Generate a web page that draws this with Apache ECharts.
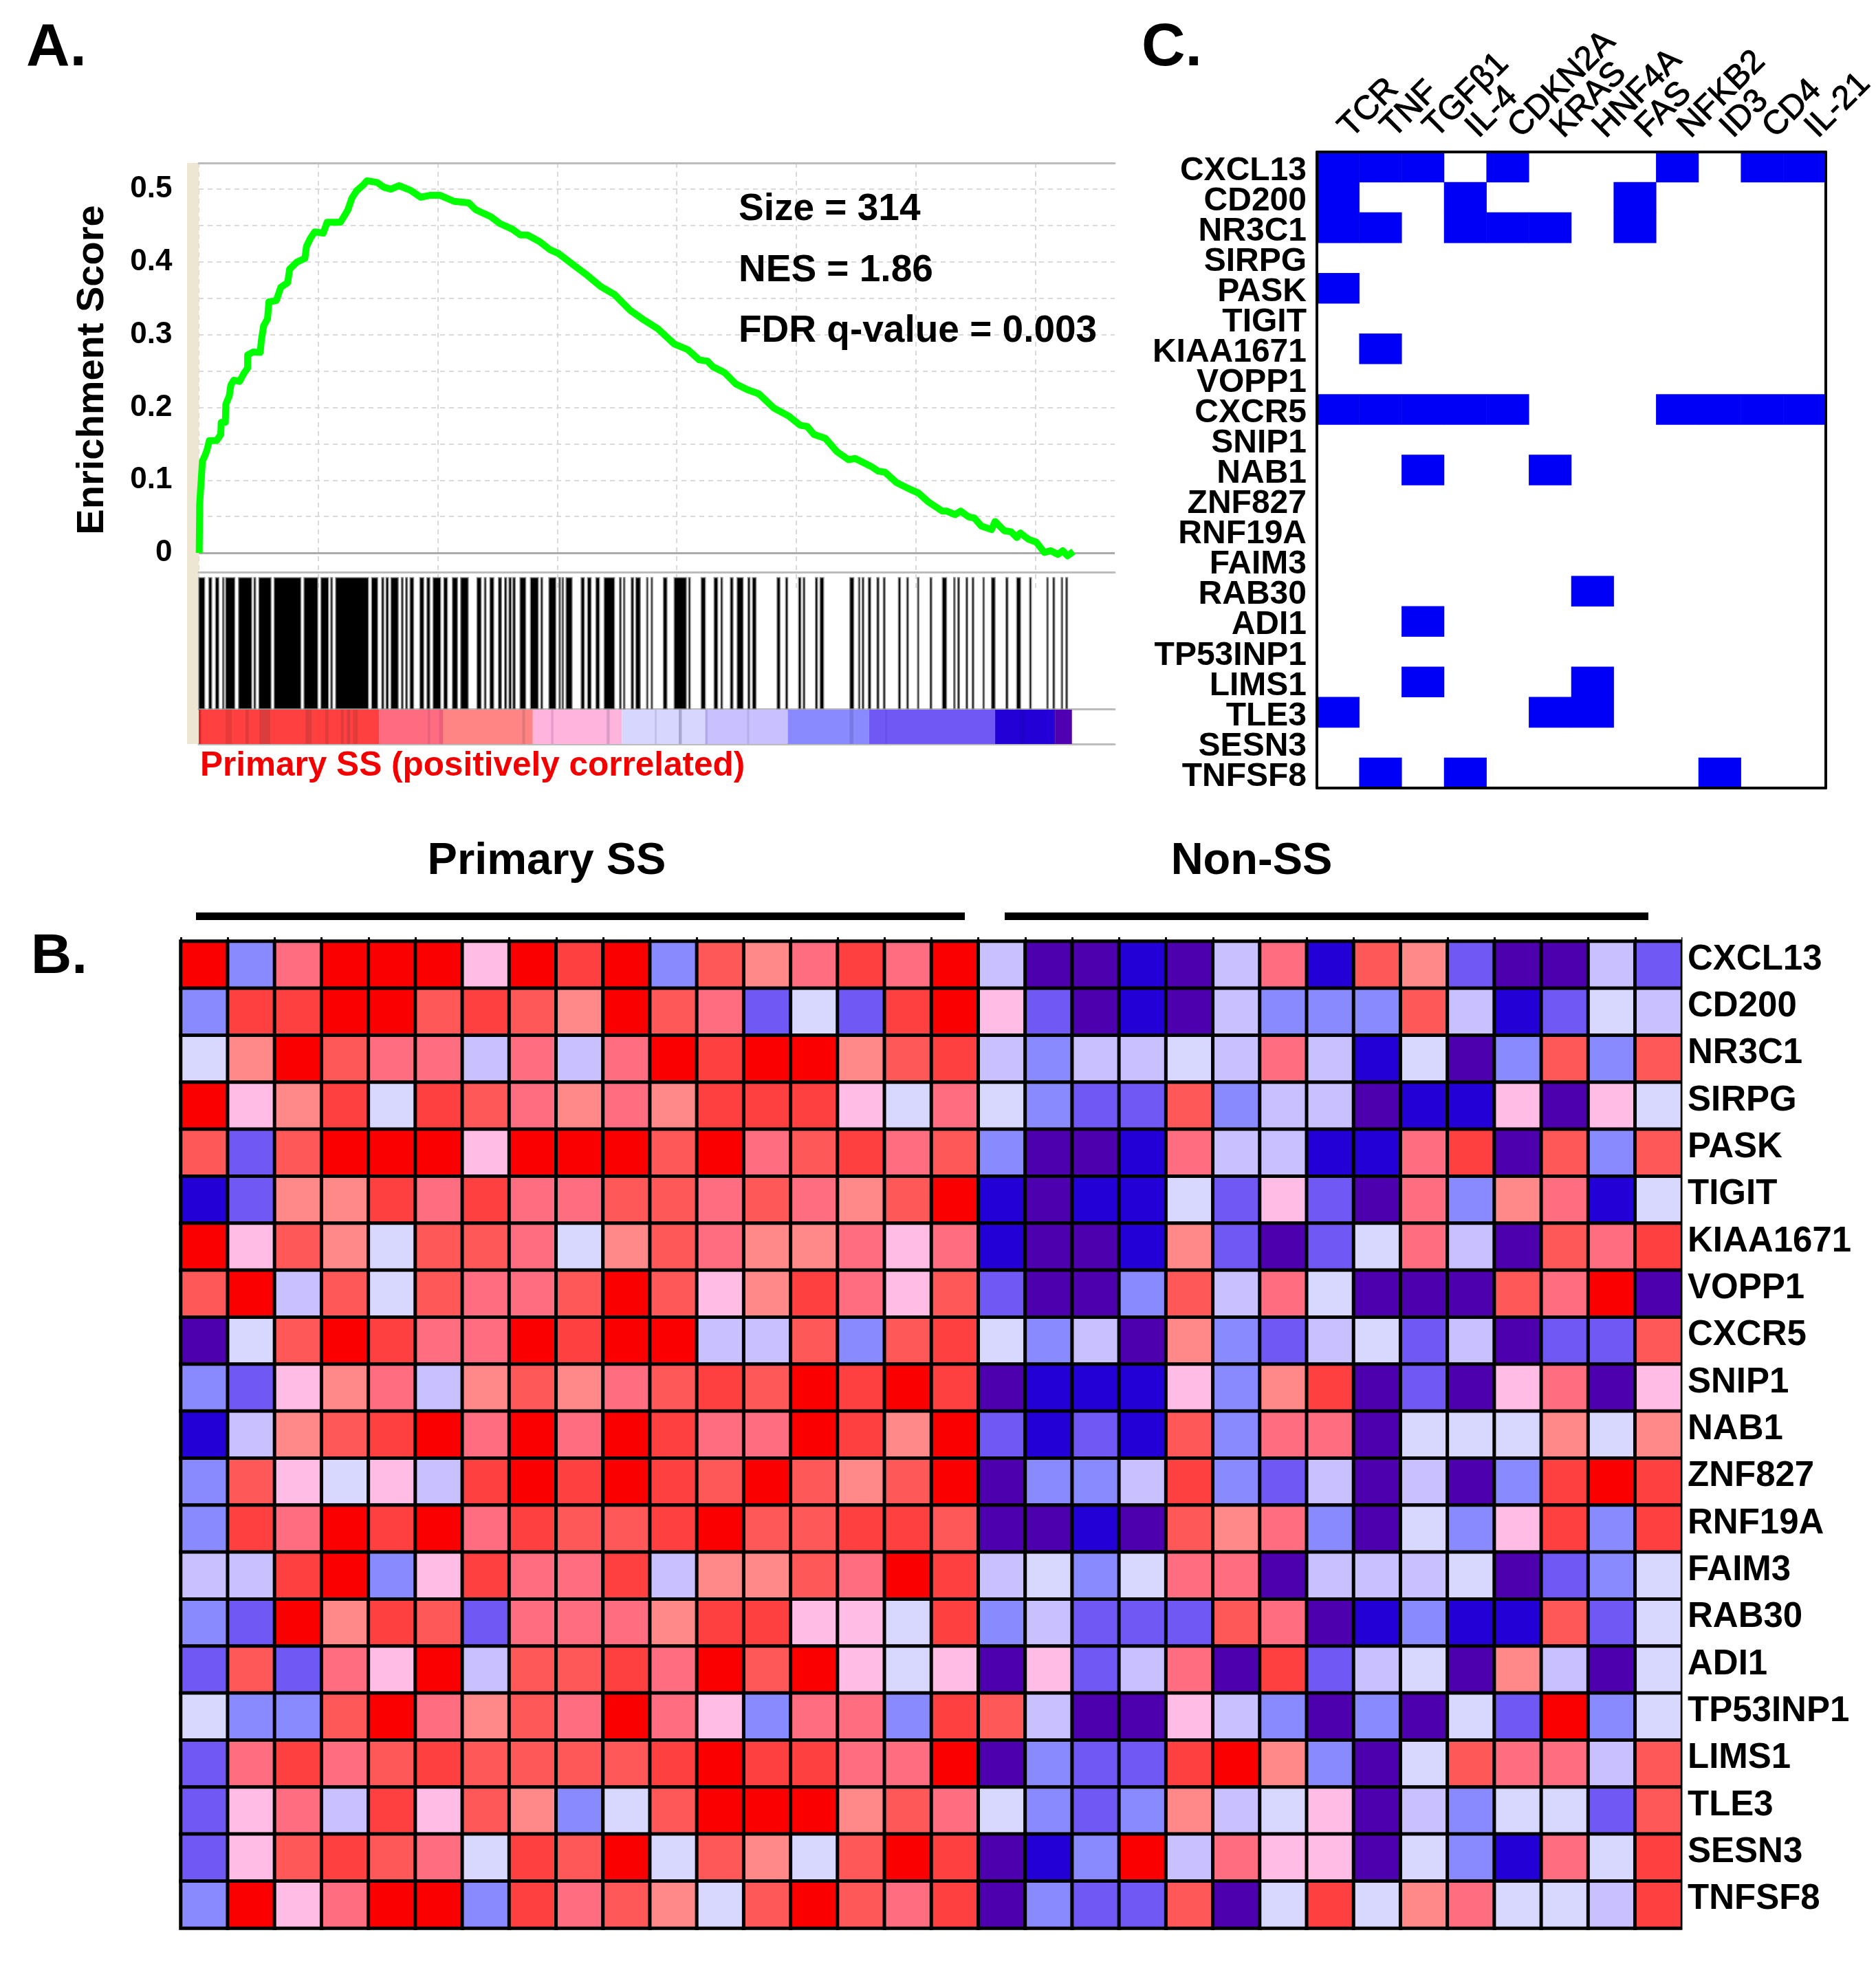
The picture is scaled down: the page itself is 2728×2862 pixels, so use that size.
<!DOCTYPE html>
<html><head><meta charset="utf-8"><style>html,body{margin:0;background:#fff}#c{width:2728px;height:2862px}</style>
<script src="https://cdn.jsdelivr.net/npm/echarts@6/dist/echarts.min.js"></script></head>
<body><div id="c"></div><script>
// ---------- Panel A data ----------
const esRank = [10,19,48,77,125,172,220,373,459,468,554,564,636,669,731,851,946,1018,1018,1137,1281,1304,1352,1433,1462,1615,1710,1854,1892,2045,2212,2245,2331,2417,2594,2675,2952,3105,3191,3287,3430,3502,3717,3860,4003,4170,4409,4624,4815,5030,5317,5627,5771,6081,6272,6535,6702,6846,7108,7323,7490,7801,8088,8374,8661,8995,9234,9568,9903,10189,10428,10595,10714,10953,11192,11431,11670,11980,12291,12530,12673,12816,13055,13294,13533,13676,14011,14154,14297,14536,14775,14990,15205,15492,15587,15754,15874,16041,16160,16303,16518,16590,16781,16925,17044,17116,17283,17450,17617,17750,17900,18000,18100,18223];
const esValue = [0,.0667,.0965,.1263,.1330,.1413,.1545,.1545,.1628,.1794,.1794,.2042,.2159,.2308,.2374,.2357,.2473,.2540,.2722,.2762,.2755,.2921,.3120,.3219,.3451,.3468,.3650,.3717,.3899,.3998,.4048,.4214,.4330,.4413,.4396,.4545,.4545,.4711,.4877,.4976,.5059,.5115,.5092,.5026,.5000,.5048,.4985,.4890,.4915,.4915,.4833,.4811,.4717,.4622,.4528,.4449,.4370,.4370,.4276,.4166,.4118,.3961,.3819,.3662,.3551,.3331,.3220,.3079,.2874,.2794,.2653,.2637,.2558,.2479,.2322,.2243,.2186,.1991,.1881,.1755,.1739,.1629,.1575,.1393,.1282,.1298,.1188,.1125,.1109,.0967,.0888,.0825,.0699,.0574,.0574,.0526,.0574,.0495,.0479,.0369,.0321,.0432,.0306,.0290,.0211,.0274,.0189,.0148,.0006,.003,-.002,.003,-.004,.002];
const hitRuns = [[0,125],[208,272],[349,419],[496,528],[560,752],[829,1104],[1149,1187],[1251,1507],[1571,2128],[2192,2480],[2544,2704],[2749,2787],[2851,3536],[3600,3728],[3811,3856],[3901,3952],[4003,4157],[4221,4259],[4310,4349],[4400,4477],[4605,4688],[4752,4816],[4880,5040],[5104,5181],[5283,5392],[5456,5616],[5795,5885],[5949,5987],[6064,6147],[6243,6307],[6371,6416],[6461,6512],[6544,6595],[6691,6813],[6909,7075],[7126,7165],[7293,7440],[7504,7536],[7568,7600],[7651,7779],[7965,8035],[8099,8176],[8272,8349],[8445,8662],[8765,8803],[8848,8880],[9008,9059],[9104,9200],[9328,9360],[9424,9456],[9679,9756],[9903,10159],[10204,10242],[10466,10556],[10735,10812],[10876,10914],[11074,11132],[11215,11343],[11439,11484],[11535,11612],[12047,12111],[12226,12271],[12495,12546],[12591,12629],[12847,12892],[12943,13020],[13564,13647],[13743,13775],[13820,13858],[13948,14000],[14127,14172],[14261,14300],[14575,14620],[14748,14786],[14972,15004],[15234,15273],[15490,15580],[15727,15759],[15810,15849],[15983,16021],[16111,16149],[16335,16367],[16514,16591],[16815,16860],[17039,17122],[17308,17346],[17666,17698],[17794,17833],[17967,17999],[18063,18101]];
const rankBands = [[0,3760,'#ff4040'],[3760,5040,'#ff6b80'],[5040,6960,'#ff8585'],[6960,8816,'#ffb4de'],[8816,10543,'#d6d6ff'],[10543,12271,'#c8c0ff'],[12271,13967,'#8a8aff'],[13967,16591,'#7058f5'],[16591,17839,'#2200d6'],[17839,18191,'#5000b0']];
const rankStripes = [[0,50,'#d82828'],[560,688,'#e83a3a'],[976,1040,'#e03a3a'],[1264,1488,'#dc3c3c'],[2224,2352,'#e03c3c'],[2640,2704,'#e03c3c'],[2960,3020,'#e03c3c'],[3088,3152,'#d83c3c'],[3216,3312,'#e03c3c'],[4770,4816,'#e8607a'],[5010,5090,'#e8607a'],[6740,6800,'#e07a7a'],[7340,7390,'#e69ccc'],[8500,8560,'#d89cc8'],[9500,9540,'#c0c0ec'],[10000,10063,'#a8a8d0'],[10560,10600,'#b0a8e8'],[11420,11470,'#b8b0ec'],[13560,13640,'#7878e8'],[14300,14340,'#6850e8'],[17100,17200,'#2000c8']];
// ---------- Panel B data ----------
const heatGenes = ['CXCL13','CD200','NR3C1','SIRPG','PASK','TIGIT','KIAA1671','VOPP1','CXCR5','SNIP1','NAB1','ZNF827','RNF19A','FAIM3','RAB30','ADI1','TP53INP1','LIMS1','TLE3','SESN3','TNFSF8'];
const levelColors = ['#4d00ad','#2200d6','#7058f5','#8a8aff','#c8c0ff','#d8d8ff','#ffbde6','#ff8888','#ff6e80','#ff5858','#ff4040','#fa0000'];
const primarySS = [
[11,3,8,11,11,11,6,11,10,11,3,9,7,8,10,8,11],
[3,10,10,11,11,9,10,9,7,11,9,8,2,5,2,10,11],
[5,7,11,9,8,8,4,8,4,8,11,10,11,11,7,9,10],
[11,6,7,10,5,10,9,8,7,8,7,10,10,10,6,5,8],
[9,2,9,11,11,11,6,11,11,11,9,11,8,9,10,8,9],
[1,2,7,7,10,8,10,8,8,9,9,8,9,8,7,9,11],
[11,6,9,7,5,9,9,8,5,7,9,8,7,7,8,6,8],
[9,11,4,9,5,9,8,8,9,11,9,6,7,10,8,6,9],
[0,5,9,11,10,8,8,11,10,11,11,4,4,9,3,9,10],
[3,2,6,7,8,4,7,9,7,8,9,10,9,11,10,11,10],
[1,4,7,9,10,11,8,11,8,11,10,8,8,11,10,7,11],
[3,9,6,5,6,4,10,11,10,11,10,9,11,9,7,9,11],
[3,10,8,11,10,11,8,10,9,9,10,11,9,9,10,10,9],
[4,4,10,11,3,6,10,8,8,10,4,7,7,9,8,11,10],
[3,2,11,7,10,9,2,8,8,8,7,10,10,6,6,5,10],
[2,9,2,8,6,11,4,9,9,10,8,11,9,11,6,5,6],
[5,3,3,9,11,8,7,9,8,11,8,6,3,8,8,3,10],
[2,8,10,8,9,10,9,9,9,9,10,11,10,10,8,8,11],
[2,6,8,4,10,6,9,7,3,5,9,11,11,11,7,9,8],
[2,6,9,10,9,8,5,10,9,11,5,9,7,5,9,11,10],
[3,11,6,8,11,11,3,10,8,9,7,5,9,11,9,8,10]];
const nonSS = [
[4,0,0,1,0,4,8,1,9,7,2,0,0,4,2],
[6,2,0,1,0,4,3,3,3,9,4,1,2,5,4],
[4,3,4,4,5,4,8,4,1,5,0,3,9,3,9],
[5,3,2,2,9,3,4,4,0,1,1,6,0,6,5],
[3,0,0,1,8,4,4,1,1,8,10,0,9,3,9],
[1,0,1,1,5,2,6,2,0,8,3,7,8,1,5],
[1,0,0,1,7,2,0,2,5,8,4,0,9,8,10],
[2,0,0,3,9,4,8,5,0,0,0,9,8,11,0],
[5,3,4,0,7,3,2,4,5,2,4,0,2,2,9],
[0,1,1,1,6,3,7,10,0,2,0,6,8,0,6],
[2,1,2,1,9,3,8,8,0,5,5,5,7,5,7],
[0,3,3,4,10,3,2,4,0,4,0,3,10,11,10],
[0,0,1,0,9,7,8,3,0,5,3,6,10,3,10],
[4,5,3,5,8,8,0,4,4,4,5,0,2,3,5],
[3,4,2,2,2,9,8,0,1,3,1,1,9,2,5],
[0,6,2,4,8,0,10,2,4,5,0,7,4,0,5],
[9,4,0,0,6,4,3,0,3,0,5,2,11,3,5],
[0,3,2,2,10,11,7,3,0,5,9,8,8,4,9],
[5,3,2,3,7,4,5,6,0,4,3,5,5,2,9],
[0,1,3,11,4,8,6,6,0,5,3,1,8,5,10],
[0,3,2,2,9,0,5,10,5,7,8,5,5,4,10]];
// ---------- Panel C data ----------
const regulators = ['TCR','TNF','TGFβ1','IL-4','CDKN2A','KRAS','HNF4A','FAS','NFKB2','ID3','CD4','IL-21'];
const targetHits = [[0,1,2,4,8,10,11],[0,3,7],[0,1,3,4,5,7],[],[0],[],[1],[],[0,1,2,3,4,8,9,10,11],[],[2,5],[],[],[],[6],[2],[],[2,6],[0,5,6],[],[1,3,9]];

const FONT='"Liberation Sans", Arial, sans-serif';
const curve=esRank.map((r,i)=>[r,esValue[i]]);
const heatData=[];
primarySS.forEach((row,r)=>row.concat(nonSS[r]).forEach((v,c)=>heatData.push([c,r,v])));
const binData=[];
targetHits.forEach((cols,r)=>cols.forEach(c=>binData.push([c,r,1])));
const noAxisParts={axisLabel:{show:false},axisTick:{show:false},splitLine:{show:false}};
const grayLine={show:true,onZero:false,lineStyle:{color:'#bcbcbc',width:3}};
const beige={show:true,onZero:false,lineStyle:{color:'#ece6d2',width:17,cap:'butt'}};
const dash={type:[7,6],color:'#dadada',width:2};
const RMAX=19083;
const rankAxis=(grid,position,extra)=>Object.assign({type:'value',gridIndex:grid,position,min:0,max:RMAX,axisLine:grayLine},noAxisParts,extra||{});
function bandItem(params,api,fill,yTop,stroke){
  const a=api.coord([api.value(0),yTop]),b=api.coord([api.value(1),0]);
  return {type:'rect',shape:{x:a[0],y:a[1],width:Math.max(b[0]-a[0],1),height:b[1]-a[1]},
    style:{fill:fill,stroke:stroke||null,lineWidth:stroke?1.5:0}};
}
function txt(text,x,y,size,extra){
  return Object.assign({type:'text',x,y,z:50,silent:true,style:{text,x:0,y:0,fill:(extra&&extra.fill)||'#000',
    font:'bold '+size+'px '+FONT,textAlign:(extra&&extra.align)||'left',textVerticalAlign:'middle'}},extra&&extra.rotation?{rotation:extra.rotation}:{});
}
const option={
 animation:false,backgroundColor:'#fff',
 grid:[
  {left:289,width:1332,top:237,height:620,outerBoundsMode:'none'},
  {left:289,width:1332,top:832,height:199,outerBoundsMode:'none'},
  {left:289,width:1332,top:1031,height:51,outerBoundsMode:'none'},
  {left:263,width:2183,top:1369,height:1435,outerBoundsMode:'none'},
  {left:1915,width:740,top:221,height:925,outerBoundsMode:'none'}
 ],
 xAxis:[
  {type:'value',gridIndex:0,position:'top',min:0,max:RMAX,interval:2490,axisLine:grayLine,axisLabel:{show:false},axisTick:{show:false},
   splitLine:{show:true,showMaxLine:false,lineStyle:dash}},
  rankAxis(1,'top'),
  rankAxis(2,'top'),
  rankAxis(2,'bottom'),
  {type:'category',gridIndex:3,position:'top',data:Array.from({length:32},(_,i)=>String(i+1)),axisLine:{lineStyle:{color:'#000',width:3}},
   axisTick:{show:true,length:6,lineStyle:{color:'#000',width:3}},axisLabel:{show:false},splitLine:{show:false}},
  {type:'category',gridIndex:4,position:'top',data:regulators,z:10,axisLine:{lineStyle:{color:'#000',width:4}},axisTick:{show:false},splitLine:{show:false},
   axisLabel:{interval:0,rotate:-45,margin:19,color:'#000',fontFamily:FONT,fontSize:48.5,textBorderColor:'#000',textBorderWidth:1,formatter:v=>' '+v}},
  {type:'category',gridIndex:4,position:'bottom',data:regulators,z:10,axisLine:{lineStyle:{color:'#000',width:4}},axisTick:{show:false},axisLabel:{show:false},splitLine:{show:false}}
 ],
 yAxis:[
  {type:'value',gridIndex:0,min:-0.05,max:0.536,interval:0.05,offset:8.5,axisLine:beige,axisTick:{show:false},
   splitLine:{show:true,showMinLine:false,showMaxLine:false,lineStyle:dash},
   axisLabel:{margin:30,color:'#000',fontFamily:FONT,fontWeight:'bold',fontSize:44,
    formatter:v=>{const t=v*10;if(v<-1e-6||Math.abs(t-Math.round(t))>1e-6)return '';return Math.abs(v)<1e-6?'0':v.toFixed(1);}}},
  Object.assign({type:'value',gridIndex:1,min:0,max:1,offset:8.5,axisLine:beige},noAxisParts),
  Object.assign({type:'value',gridIndex:2,min:0,max:1,offset:8.5,axisLine:beige},noAxisParts),
  {type:'category',gridIndex:3,position:'right',inverse:true,data:heatGenes,axisLine:{show:false},axisTick:{show:false},splitLine:{show:false},
   axisLabel:{interval:0,margin:8,color:'#000',fontFamily:FONT,fontWeight:'bold',fontSize:51,verticalAlign:'bottom',lineHeight:15}},
  {type:'category',gridIndex:4,position:'left',inverse:true,data:heatGenes,z:10,axisLine:{lineStyle:{color:'#000',width:4}},axisTick:{show:false},splitLine:{show:false},
   axisLabel:{interval:0,margin:15,color:'#000',fontFamily:FONT,fontWeight:'bold',fontSize:48,verticalAlign:'top',lineHeight:11}},
  {type:'category',gridIndex:4,position:'right',inverse:true,data:heatGenes,z:10,axisLine:{lineStyle:{color:'#000',width:4}},axisTick:{show:false},axisLabel:{show:false},splitLine:{show:false}}
 ],
 visualMap:[
  {type:'piecewise',show:false,seriesIndex:4,dimension:2,pieces:levelColors.map((c,i)=>({value:i,color:c}))},
  {type:'piecewise',show:false,seriesIndex:5,dimension:2,pieces:[{value:1,color:'#0000f6'}]}
 ],
 series:[
  {type:'line',xAxisIndex:0,yAxisIndex:0,data:curve,showSymbol:false,symbol:'none',z:5,lineStyle:{color:'#00ff00',width:10,join:'round'},
   markLine:{silent:true,symbol:'none',label:{show:false},lineStyle:{type:'solid',color:'#aaaaaa',width:3},data:[{yAxis:0}],z:3}},
  {type:'custom',xAxisIndex:1,yAxisIndex:1,data:hitRuns,encode:{x:[0,1]},silent:true,z:3,
   renderItem:(p,api)=>bandItem(p,api,'#000',0.96,'#8a8a8a')},
  {type:'custom',xAxisIndex:2,yAxisIndex:2,data:rankBands,encode:{x:[0,1]},silent:true,z:3,
   renderItem:(p,api)=>bandItem(p,api,rankBands[p.dataIndex][2],0.98)},
  {type:'custom',xAxisIndex:2,yAxisIndex:2,data:rankStripes,encode:{x:[0,1]},silent:true,z:4,
   renderItem:(p,api)=>bandItem(p,api,rankStripes[p.dataIndex][2],0.98)},
  {type:'heatmap',xAxisIndex:4,yAxisIndex:3,data:heatData,silent:true,itemStyle:{borderColor:'#000',borderWidth:5}},
  {type:'heatmap',xAxisIndex:5,yAxisIndex:4,data:binData,silent:true,z:2}
 ],
 graphic:{elements:[
  txt('A.',38,71,88), txt('B.',45,1392,82), txt('C.',1660,71,88),
  txt('Enrichment Score',135,538,56,{rotation:Math.PI/2,align:'center'}),
  txt('Size = 314',1074,305,55), txt('NES = 1.86',1074,394,55), txt('FDR q-value = 0.003',1074,482,55),
  txt('Primary SS (positively correlated)',291,1114,49.5,{fill:'#f50000'}),
  txt('Primary SS',795,1253,65,{align:'center'}), txt('Non-SS',1820,1253,65,{align:'center'}),
  {type:'rect',shape:{x:285,y:1327,width:1118,height:11},style:{fill:'#000'},silent:true},
  {type:'rect',shape:{x:1461,y:1327,width:936,height:11},style:{fill:'#000'},silent:true},
  {type:'rect',shape:{x:2446.5,y:1360,width:6,height:1448},style:{fill:'#fff'},silent:true,z:40}
 ]}
};
const chart=echarts.init(document.getElementById('c'),null,{renderer:'canvas',width:2728,height:2862});
chart.setOption(option);
</script></body></html>
